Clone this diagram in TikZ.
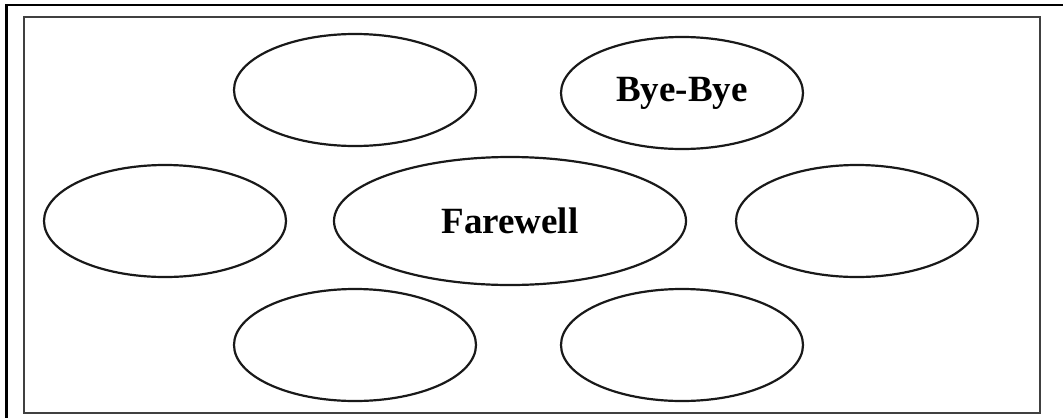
\documentclass[tikz,border=0pt]{standalone}
\usepackage{fontspec}
\setmainfont{Liberation Serif}
\usetikzlibrary{shapes.geometric}
\colorlet{myline}{black!90}
\colorlet{myframe}{black!75}
\tikzset{
	>=latex, % default arrow head
	bubble/.style={ellipse,draw=myline,line width=2.2,minimum width=242,minimum height=112,inner sep=0,
	               font=\fontsize{37}{40}\selectfont\bfseries},
	bubble main/.style={bubble,minimum width=352,minimum height=128},
	frame/.style={draw=myframe,line width=2.2},
}

\begin{document}
\begin{tikzpicture}[x=1pt,y=-1pt]
  \useasboundingbox (0,0) rectangle (1063,418);
  
  % OUTER FRAME
  \draw[black,line width=2] (5,5) -- (1063,5);
  \draw[black,line width=3.4] (6.5,5) -- (6.5,418);
  
  % INNER FRAME
  \draw[frame] (24,17) rectangle (1040,413);
  
  % CENTRE WORD
  \node[bubble main] (farewell) at (510,221) {Farewell};
  
  % SURROUNDING WORDS
  \node[bubble] (topleft)  at (355,90)  {};
  \node[bubble] (byebye)   at (682,93)  {Bye-Bye};
  \node[bubble] (left)     at (165,221) {};
  \node[bubble] (right)    at (857,221) {};
  \foreach \x [count=\i] in {355,682}{ % bottom row
    \node[bubble] (bottom-\i) at (\x,345) {};
  }
  
\end{tikzpicture}
\end{document}
